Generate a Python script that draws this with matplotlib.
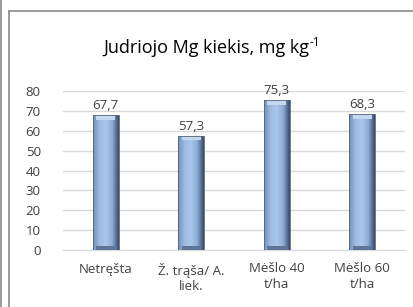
import numpy as np
import matplotlib.pyplot as plt
from matplotlib.patches import Rectangle
from matplotlib.lines import Line2D

categories = ['Netręšta', 'Ž. trąša/ A.\nliek.', 'Mėšlo 40\nt/ha', 'Mėšlo 60\nt/ha']
values = [67.7, 57.3, 75.3, 68.3]
labels = ['67,7', '57,3', '75,3', '68,3']
yticks = [0, 10, 20, 30, 40, 50, 60, 70, 80]

plt.rcParams['font.family'] = ['Open Sans', 'DejaVu Sans']

fig = plt.figure(figsize=(4.14, 3.07), dpi=100)
W, H = 414, 307

# outer frame lines
fig.add_artist(Line2D([1.5 / W, 1.5 / W], [0, 1], color='#8a8a8a', lw=1.2))
fig.add_artist(Line2D([8.5 / W, 8.5 / W], [0, 1 - 11 / H], color='#8a8a8a', lw=1.2))
fig.add_artist(Line2D([8.5 / W, 1], [1 - 11 / H, 1 - 11 / H], color='#8a8a8a', lw=1.2))

ax = fig.add_axes([63 / W, 1 - 250 / H, 342 / W, 159 / H])
x = np.arange(len(categories))
width = 0.3

# gradient bar look
cmap_cols = np.array([
    [0.45, 0.56, 0.72],
    [0.62, 0.74, 0.89],
    [0.66, 0.78, 0.92],
    [0.55, 0.67, 0.83],
    [0.22, 0.29, 0.40],
])
grad = np.linspace(0, 1, 64)
pos = np.linspace(0, 1, len(cmap_cols))
img = np.stack([np.interp(grad, pos, cmap_cols[:, c]) for c in range(3)], axis=-1)[None, :, :]

bars = ax.bar(x, values, width, color='none', zorder=3)
for b in bars:
    x0, w, h = b.get_x(), b.get_width(), b.get_height()
    im = ax.imshow(img, extent=[x0, x0 + w, 0, h], aspect='auto', zorder=3, interpolation='bilinear')
    clip = Rectangle((x0, 0), w, h, transform=ax.transData, facecolor='none')
    im.set_clip_path(clip)
    # top and bottom bevel
    ax.add_patch(Rectangle((x0 + w * 0.12, h - 2.2), w * 0.76, 2.2, color='#c6d8f0', zorder=4, lw=0))
    ax.add_patch(Rectangle((x0 + w * 0.12, 0), w * 0.76, 1.8, color='#5f7596', zorder=4, lw=0))
    ax.add_patch(Rectangle((x0, 0), w, h, fill=False, edgecolor='#55657c', lw=0.6, zorder=5))

for xi, v, t in zip(x, values, labels):
    ax.text(xi, v + 1.8, t, ha='center', va='bottom', fontsize=9.5, color='#404040')

ax.set_xlim(-0.5, len(categories) - 0.5)
ax.set_ylim(0, 80)
ax.set_yticks(yticks)
ax.set_xticks(x)
ax.set_xticklabels(categories, fontsize=9.5, color='#404040', linespacing=1.25)
ax.tick_params(axis='y', labelsize=9.5, labelcolor='#404040', length=0, pad=16)
ax.tick_params(axis='x', length=0, pad=9)
ax.grid(axis='y', color='#d9d9d9', lw=1)
ax.set_axisbelow(True)
for s in ['top', 'right', 'left']:
    ax.spines[s].set_visible(False)
ax.spines['bottom'].set_color('#d9d9d9')

# title with a small "-1" superscript
title = fig.text(206 / W, 1 - 48 / H, 'Judriojo Mg kiekis, mg kg', ha='center', va='center',
                 fontsize=13, color='#000000')
fig.canvas.draw()
bb = title.get_window_extent()
fig.text(bb.x1 / W + 0.5 / W, 1 - 42 / H, '-1', ha='left', va='center', fontsize=8.5, color='#000000')

fig.savefig('out.png', dpi=100)
